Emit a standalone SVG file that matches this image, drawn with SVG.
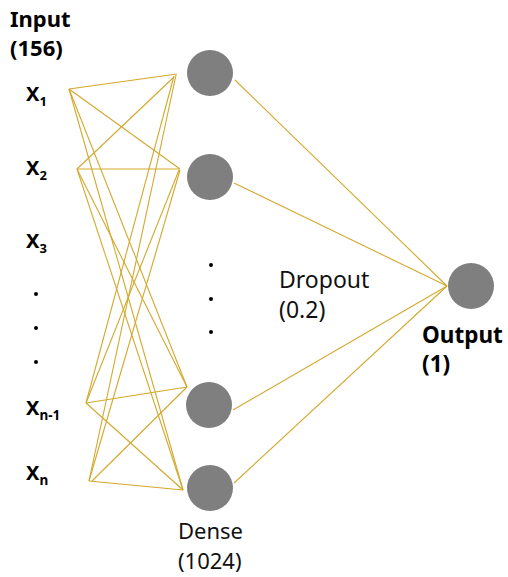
<svg xmlns="http://www.w3.org/2000/svg" width="508" height="577" viewBox="0 0 508 577">
<style>
.node{fill:#7f7f7f}
.conn line{stroke:#D4A82C;stroke-width:1.1;fill:none}
.b{font-family:"Noto Sans","Open Sans",sans-serif;font-weight:bold;fill:#000}
.r{font-family:"Noto Sans","Open Sans",sans-serif;fill:#111}
.dot{fill:#000}
</style>
<rect width="508" height="577" fill="#fff"/>
<g id="connectors" class="conn">
<line x1="69" y1="89" x2="177" y2="74"/>
<line x1="69" y1="89" x2="180" y2="169"/>
<line x1="69" y1="89" x2="187" y2="387"/>
<line x1="69" y1="89" x2="183" y2="490"/>
<line x1="77" y1="169" x2="174" y2="77"/>
<line x1="77" y1="169" x2="180" y2="169"/>
<line x1="77" y1="169" x2="187" y2="387"/>
<line x1="77" y1="169" x2="183" y2="490"/>
<line x1="86" y1="403" x2="174" y2="76"/>
<line x1="86" y1="403" x2="179" y2="170"/>
<line x1="86" y1="403" x2="187" y2="387"/>
<line x1="86" y1="403" x2="183" y2="490"/>
<line x1="89" y1="481" x2="176" y2="75"/>
<line x1="89" y1="481" x2="180" y2="170"/>
<line x1="92" y1="481" x2="187" y2="387"/>
<line x1="89" y1="481" x2="183" y2="490"/>
<line x1="235" y1="80" x2="447" y2="286"/>
<line x1="234" y1="183" x2="447" y2="286"/>
<line x1="233" y1="410" x2="447" y2="286"/>
<line x1="234" y1="483" x2="447" y2="286"/>
</g>
<g id="input-label"><text class="b" x="10" y="27" font-size="22">Input</text><text class="b" x="10" y="56" font-size="22">(156)</text></g>
<g id="x1"><text class="b" x="26" y="101" font-size="20">X<tspan font-size="13" dy="5">1</tspan></text></g>
<g id="x2"><text class="b" x="26" y="175" font-size="20">X<tspan font-size="13" dy="5">2</tspan></text></g>
<g id="x3"><text class="b" x="26" y="248" font-size="20">X<tspan font-size="13" dy="5">3</tspan></text></g>
<g id="input-dots"><circle class="dot" cx="36" cy="294" r="2"/><circle class="dot" cx="36" cy="328" r="2"/><circle class="dot" cx="36" cy="362" r="2"/></g>
<g id="xn-1"><text class="b" x="26" y="415" font-size="20">X<tspan font-size="13.5" dy="5">n-1</tspan></text></g>
<g id="xn"><text class="b" x="26" y="480" font-size="20">X<tspan font-size="13.5" dy="5">n</tspan></text></g>
<g id="dense1"><circle class="node" cx="210" cy="73" r="23"/></g>
<g id="dense2"><circle class="node" cx="210" cy="177" r="23"/></g>
<g id="dense-dots"><circle class="dot" cx="211" cy="265" r="2"/><circle class="dot" cx="211" cy="299" r="2"/><circle class="dot" cx="211" cy="332" r="2"/></g>
<g id="dense3"><circle class="node" cx="209" cy="405" r="23"/></g>
<g id="dense4"><circle class="node" cx="210" cy="488" r="23"/></g>
<g id="dense-label"><text class="r" x="178" y="539" font-size="22">Dense</text><text class="r" x="178" y="569" font-size="22">(1024)</text></g>
<g id="dropout-label"><text class="r" x="279" y="288" font-size="23">Dropout</text><text class="r" x="279" y="318" font-size="23">(0.2)</text></g>
<g id="output"><circle class="node" cx="471" cy="286" r="23"/></g>
<g id="output-label"><text class="b" x="422" y="343" font-size="22.5">Output</text><text class="b" x="422" y="372" font-size="22.5">(1)</text></g>
</svg>
